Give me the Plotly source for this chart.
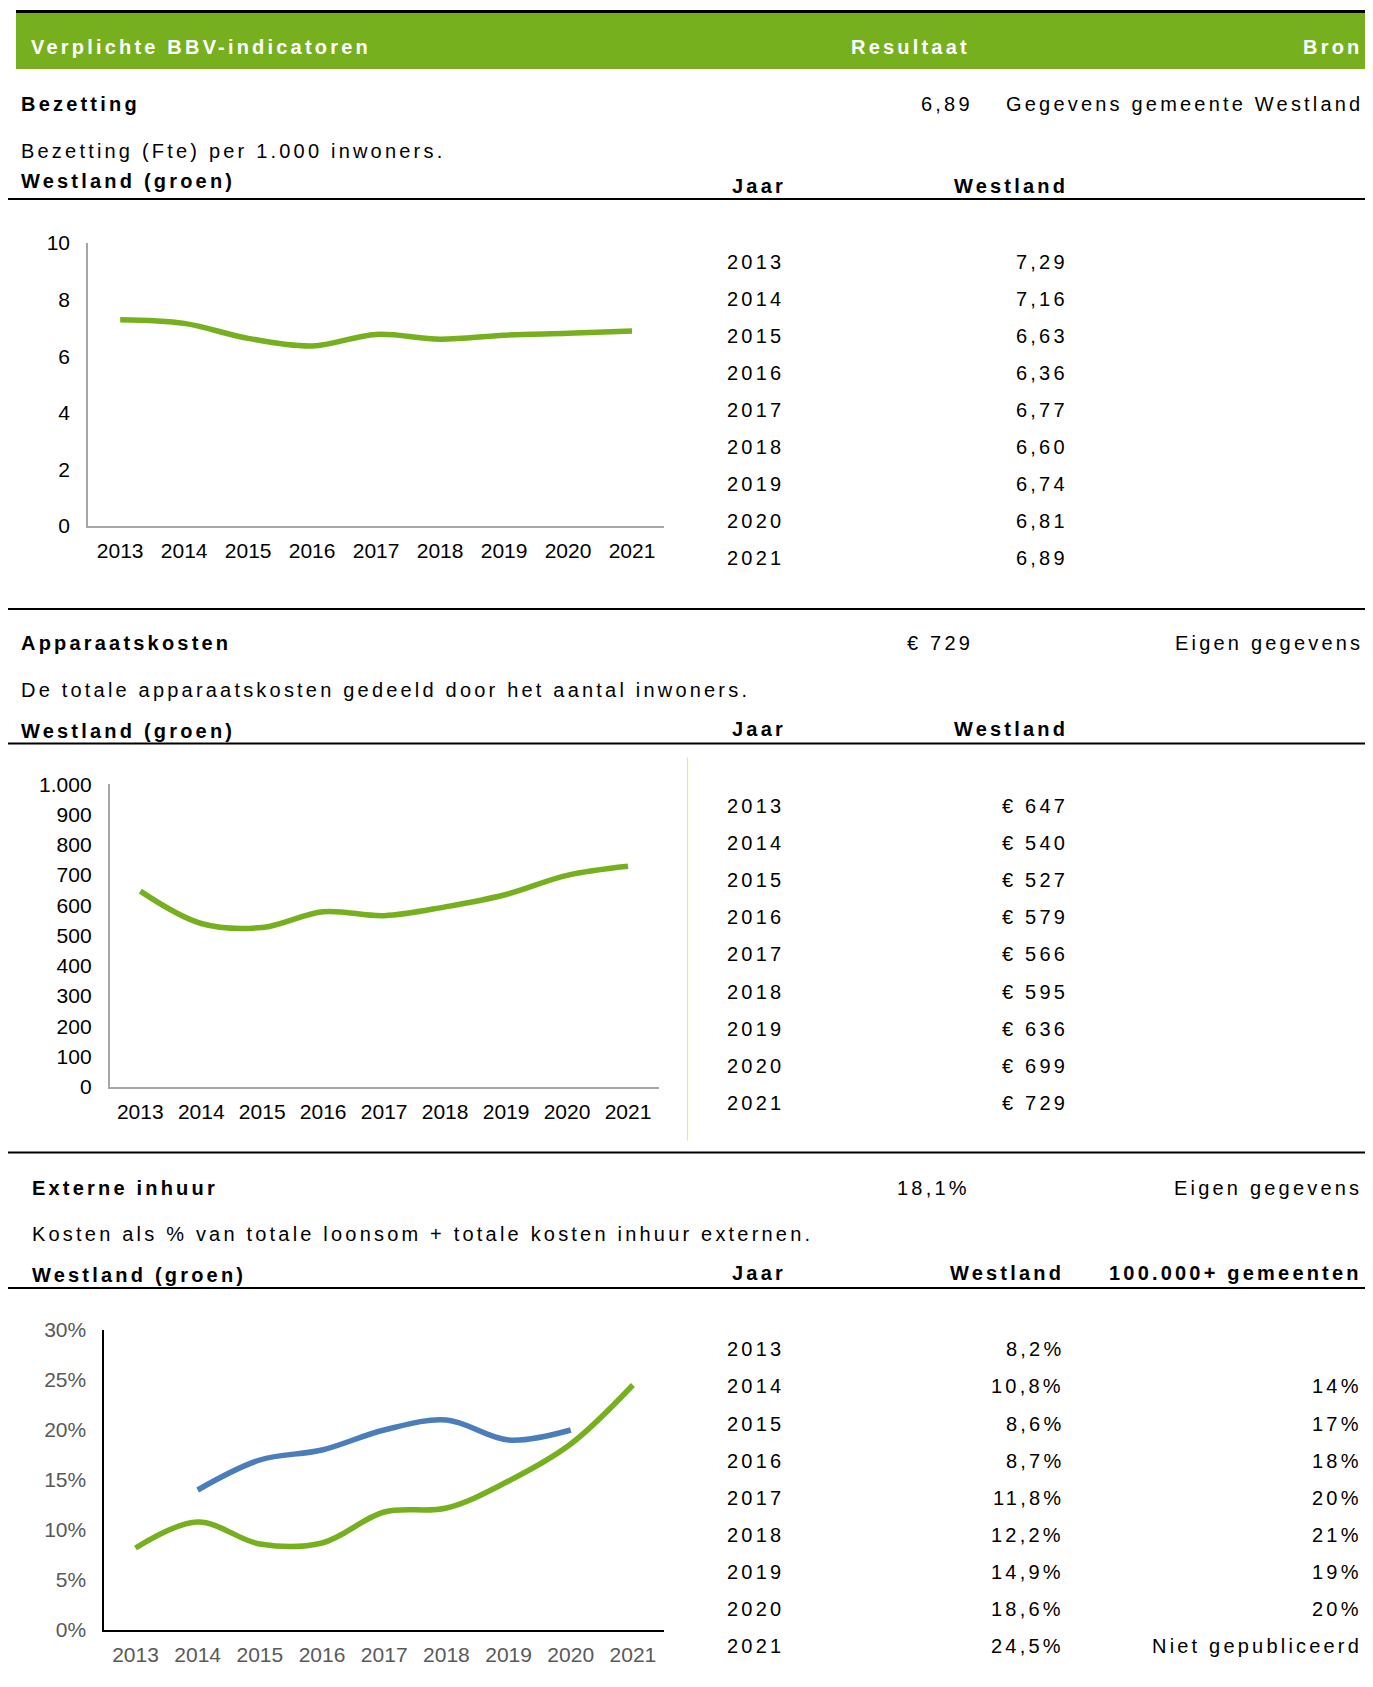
import plotly.graph_objects as go

# ---------------- data ----------------
years = ["2013", "2014", "2015", "2016", "2017", "2018", "2019", "2020", "2021"]

bezetting_westland = [7.29, 7.16, 6.63, 6.36, 6.77, 6.60, 6.74, 6.81, 6.89]
apparaat_westland = [647, 540, 527, 579, 566, 595, 636, 699, 729]
inhuur_westland = [8.2, 10.8, 8.6, 8.7, 11.8, 12.2, 14.9, 18.6, 24.5]
inhuur_100k = [None, 14, 17, 18, 20, 21, 19, 20, None]
inhuur_100k_missing = "Niet gepubliceerd"

bezetting_ticks = [0, 2, 4, 6, 8, 10]
apparaat_ticks = [0, 100, 200, 300, 400, 500, 600, 700, 800, 900, 1000]
inhuur_ticks = [0, 5, 10, 15, 20, 25, 30]

header_labels = ["Verplichte BBV-indicatoren", "Resultaat", "Bron"]
section_titles = ["Bezetting", "Apparaatskosten", "Externe inhuur"]
section_results = ["6,89", "€ 729", "18,1%"]
section_sources = ["Gegevens gemeente Westland", "Eigen gegevens", "Eigen gegevens"]
section_descriptions = [
    "Bezetting (Fte) per 1.000 inwoners.",
    "De totale apparaatskosten gedeeld door het aantal inwoners.",
    "Kosten als % van totale loonsom + totale kosten inhuur externen.",
]
legend_label = "Westland (groen)"
col_labels = ["Jaar", "Westland", "100.000+ gemeenten"]

# ---------------- helpers ----------------
W_REF, H_REF = 1373, 1687
OFF_X, OFF_Y = 8, 8
FIG_W, FIG_H = W_REF - 2 * OFF_X, H_REF - 2 * OFF_Y


def px(x):
    return (x - OFF_X) / FIG_W


def py(y):
    return 1 - (y - OFF_Y) / FIG_H


GREEN = "#76B01F"
BLUE = "#4A7EBB"
FONT = "Liberation Sans, Arial, sans-serif"
LS = 3.2

annotations = []
shapes = []


def text(s, x, y, anchor="left", bold=False, color="black", size=20, ls=LS):
    content = f'<span style="letter-spacing:{ls}px">{s}</span>'
    if bold:
        content = f"<b>{content}</b>"
    if anchor == "right":
        x = x + ls
    annotations.append(dict(
        text=content, x=px(x), y=py(y), xref="paper", yref="paper",
        xanchor=anchor, yanchor="middle", showarrow=False, borderpad=0,
        font=dict(family=FONT, size=size, color=color)))


def hline(y, x0, x1, width=2, color="black"):
    shapes.append(dict(type="line", xref="paper", yref="paper",
                       x0=max(px(x0), 0), x1=min(px(x1), 1), y0=py(y), y1=py(y),
                       line=dict(color=color, width=width)))


def fmt_dec(v, nd):
    return f"{v:.{nd}f}".replace(".", ",")


# ---------------- header ----------------
shapes.append(dict(type="rect", xref="paper", yref="paper",
                   x0=px(16), x1=1, y0=py(69), y1=py(13),
                   fillcolor=GREEN, line=dict(width=0), layer="below"))
hline(11.5, 16, 1380, width=3)
text(header_labels[0], 30, 47, bold=True, color="white")
text(header_labels[1], 968, 47, anchor="right", bold=True, color="white")
text(header_labels[2], 1360, 47, anchor="right", bold=True, color="white")

# ---------------- section layout ----------------
sections = [
    dict(tx=20, title_y=104.4, res_r=970.6, src_r=1361, desc_y=150.6, leg_y=181,
         col_y=186, line_y=199, row0=261.5, val_r=1066),
    dict(tx=20, title_y=643.4, res_r=970.6, src_r=1361, desc_y=689.7, leg_y=730.6,
         col_y=728.5, line_y=743.5, row0=806, val_r=1066),
    dict(tx=31, title_y=1188, res_r=967.3, src_r=1360, desc_y=1234.2, leg_y=1275,
         col_y=1273, line_y=1288, row0=1349.3, val_r=1062),
]
ROW_H = 37.1

table_values = [
    [fmt_dec(v, 2) for v in bezetting_westland],
    [f"€ {v}" for v in apparaat_westland],
    [fmt_dec(v, 1) + "%" for v in inhuur_westland],
]
third_col = [("" if v is None else f"{v}%") for v in inhuur_100k[:-1]] + [inhuur_100k_missing]

for i, s in enumerate(sections):
    text(section_titles[i], s["tx"], s["title_y"], bold=True)
    text(section_results[i], s["res_r"], s["title_y"], anchor="right")
    text(section_sources[i], s["src_r"], s["title_y"], anchor="right")
    text(section_descriptions[i], s["tx"], s["desc_y"])
    text(legend_label, s["tx"], s["leg_y"], bold=True)
    text(col_labels[0], 730.6, s["col_y"], bold=True)
    text(col_labels[1], s["val_r"], s["col_y"], anchor="right", bold=True)
    if i == 2:
        text(col_labels[2], 1360, s["col_y"], anchor="right", bold=True)
    hline(s["line_y"], 0, 1380, width=2)
    for r, yr in enumerate(years):
        yy = s["row0"] + r * ROW_H
        text(yr, 726, yy)
        text(table_values[i][r], s["val_r"], yy, anchor="right")
        if i == 2 and third_col[r]:
            text(third_col[r], 1360, yy, anchor="right")

# separators
hline(609, 0, 1380, width=2)
hline(1152.4, 0, 1380, width=2)
# thin yellow vertical rule in section 2
shapes.append(dict(type="line", xref="paper", yref="paper",
                   x0=px(687.6), x1=px(687.6), y0=py(1140.6), y1=py(757.5),
                   line=dict(color="#FFF200", width=1)))

# ---------------- charts ----------------
fig = go.Figure()

line_kw = dict(shape="spline", smoothing=1.0, width=5.5)
fig.add_trace(go.Scatter(x=years, y=bezetting_westland, mode="lines",
                         line=dict(color=GREEN, **line_kw), xaxis="x", yaxis="y",
                         hoverinfo="skip"))
fig.add_trace(go.Scatter(x=years, y=apparaat_westland, mode="lines",
                         line=dict(color=GREEN, **line_kw), xaxis="x2", yaxis="y2",
                         hoverinfo="skip"))
fig.add_trace(go.Scatter(x=years, y=inhuur_100k, mode="lines",
                         line=dict(color=BLUE, **line_kw), xaxis="x3", yaxis="y3",
                         hoverinfo="skip", connectgaps=False))
fig.add_trace(go.Scatter(x=years, y=inhuur_westland, mode="lines",
                         line=dict(color=GREEN, **line_kw), xaxis="x3", yaxis="y3",
                         hoverinfo="skip"))


def xax(x0, x1, anchor, linecolor, tickcolor):
    return dict(domain=[px(x0), px(x1)], anchor=anchor, type="category",
                range=[-0.5, len(years) - 0.5], showline=True, linecolor=linecolor,
                linewidth=2, showgrid=False, zeroline=False, ticks="",
                tickfont=dict(family=FONT, size=21, color=tickcolor),
                ticklabelstandoff=5, fixedrange=True, automargin=False)


def yax(y_bottom, y_top, anchor, rng, tickvals, ticktext, linecolor, tickcolor):
    return dict(domain=[py(y_bottom), py(y_top)], anchor=anchor, range=rng,
                tickmode="array", tickvals=tickvals, ticktext=ticktext,
                showline=True, linecolor=linecolor, linewidth=2, showgrid=False,
                zeroline=False, ticks="",
                tickfont=dict(family=FONT, size=21, color=tickcolor),
                ticklabelstandoff=12, fixedrange=True, automargin=False)


AX_GRAY = "#A6A6A6"
fig.update_layout(
    xaxis=xax(88.2, 664, "y", AX_GRAY, "black"),
    yaxis=yax(526, 243, "x", [0, 10], bezetting_ticks,
              [str(v) for v in bezetting_ticks], AX_GRAY, "black"),
    xaxis2=xax(109.8, 658.5, "y2", AX_GRAY, "black"),
    yaxis2=yax(1086.8, 784.4, "x2", [0, 1000], apparaat_ticks,
               [f"{v:,}".replace(",", ".") for v in apparaat_ticks], AX_GRAY, "black"),
    xaxis3=xax(104.4, 664, "y3", "black", "#595959"),
    yaxis3=yax(1630, 1330, "x3", [0, 30], inhuur_ticks,
               [f"{v}%" for v in inhuur_ticks], "black", "#595959"),
    width=FIG_W, height=FIG_H,
    margin=dict(l=0, r=0, t=0, b=0, pad=0, autoexpand=False),
    paper_bgcolor="white", plot_bgcolor="white",
    showlegend=False,
    annotations=annotations, shapes=shapes,
    font=dict(family=FONT),
)

fig.write_html("out.html")
